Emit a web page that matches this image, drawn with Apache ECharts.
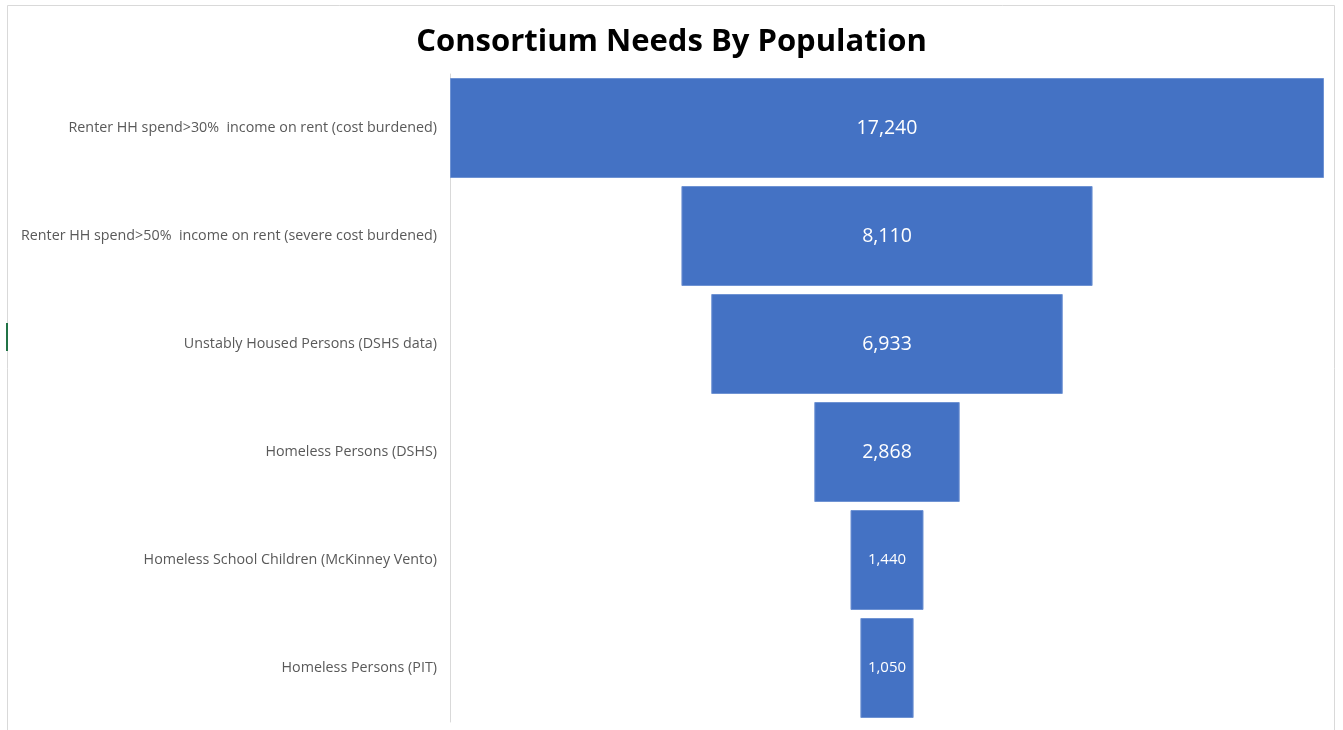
<!DOCTYPE html>
<html>
<head>
<meta charset="utf-8">
<script src="https://cdn.jsdelivr.net/npm/echarts@6/dist/echarts.min.js"></script>
<style>
html,body{margin:0;padding:0;background:#fff;}
#chart{width:1343px;height:730px;}
</style>
</head>
<body>
<div id="chart"></div>
<script>
const categories = [
  "Renter HH spend>30%  income on rent (cost burdened)",
  "Renter HH spend>50%  income on rent (severe cost burdened)",
  "Unstably Housed Persons (DSHS data)",
  "Homeless Persons (DSHS)",
  "Homeless School Children (McKinney Vento)",
  "Homeless Persons (PIT)"
];
const values = [17240, 8110, 6933, 2868, 1440, 1050];
const labelSizes = [19.5, 19.5, 19.5, 19.5, 15, 15];

const maxVal = Math.max.apply(null, values);
const offsets = values.map(v => (maxVal - v) / 2);

const chart = echarts.init(document.getElementById('chart'));
chart.setOption({
  animation: false,
  backgroundColor: '#ffffff',
  title: {
    text: 'Consortium Needs By Population',
    left: 'center',
    top: 22,
    textStyle: { fontFamily: 'Open Sans', fontWeight: 'bold', fontSize: 31, color: '#000000' }
  },
  graphic: [
    { type: 'rect', shape: { x: 7.5, y: 5.5, width: 1327, height: 740 }, style: { fill: 'none', stroke: '#d9d9d9', lineWidth: 1 }, silent: true },
    { type: 'rect', shape: { x: 6, y: 323, width: 2, height: 28 }, style: { fill: '#217346' }, silent: true }
  ],
  grid: { left: 450, right: 19, top: 74, bottom: 8 },
  xAxis: { type: 'value', min: 0, max: maxVal, show: false },
  yAxis: {
    type: 'category',
    data: categories,
    inverse: true,
    axisLine: { show: true, lineStyle: { color: '#d9d9d9', width: 1 } },
    axisTick: { show: false },
    axisLabel: { color: '#595959', fontSize: 14.3, fontFamily: 'Open Sans', margin: 13 }
  },
  series: [
    {
      type: 'bar', stack: 'f', data: offsets, barWidth: 100,
      itemStyle: { color: 'transparent' }, silent: true
    },
    {
      type: 'bar', stack: 'f', barWidth: 100,
      data: values.map((v, i) => ({
        value: v,
        label: { fontSize: labelSizes[i] }
      })),
      itemStyle: { color: '#4472C4', borderColor: '#6f93d3', borderWidth: 1 },
      label: {
        show: true, position: 'inside', color: '#ffffff', fontFamily: 'Open Sans',
        formatter: p => p.value.toLocaleString('en-US')
      }
    }
  ]
});
</script>
</body>
</html>
